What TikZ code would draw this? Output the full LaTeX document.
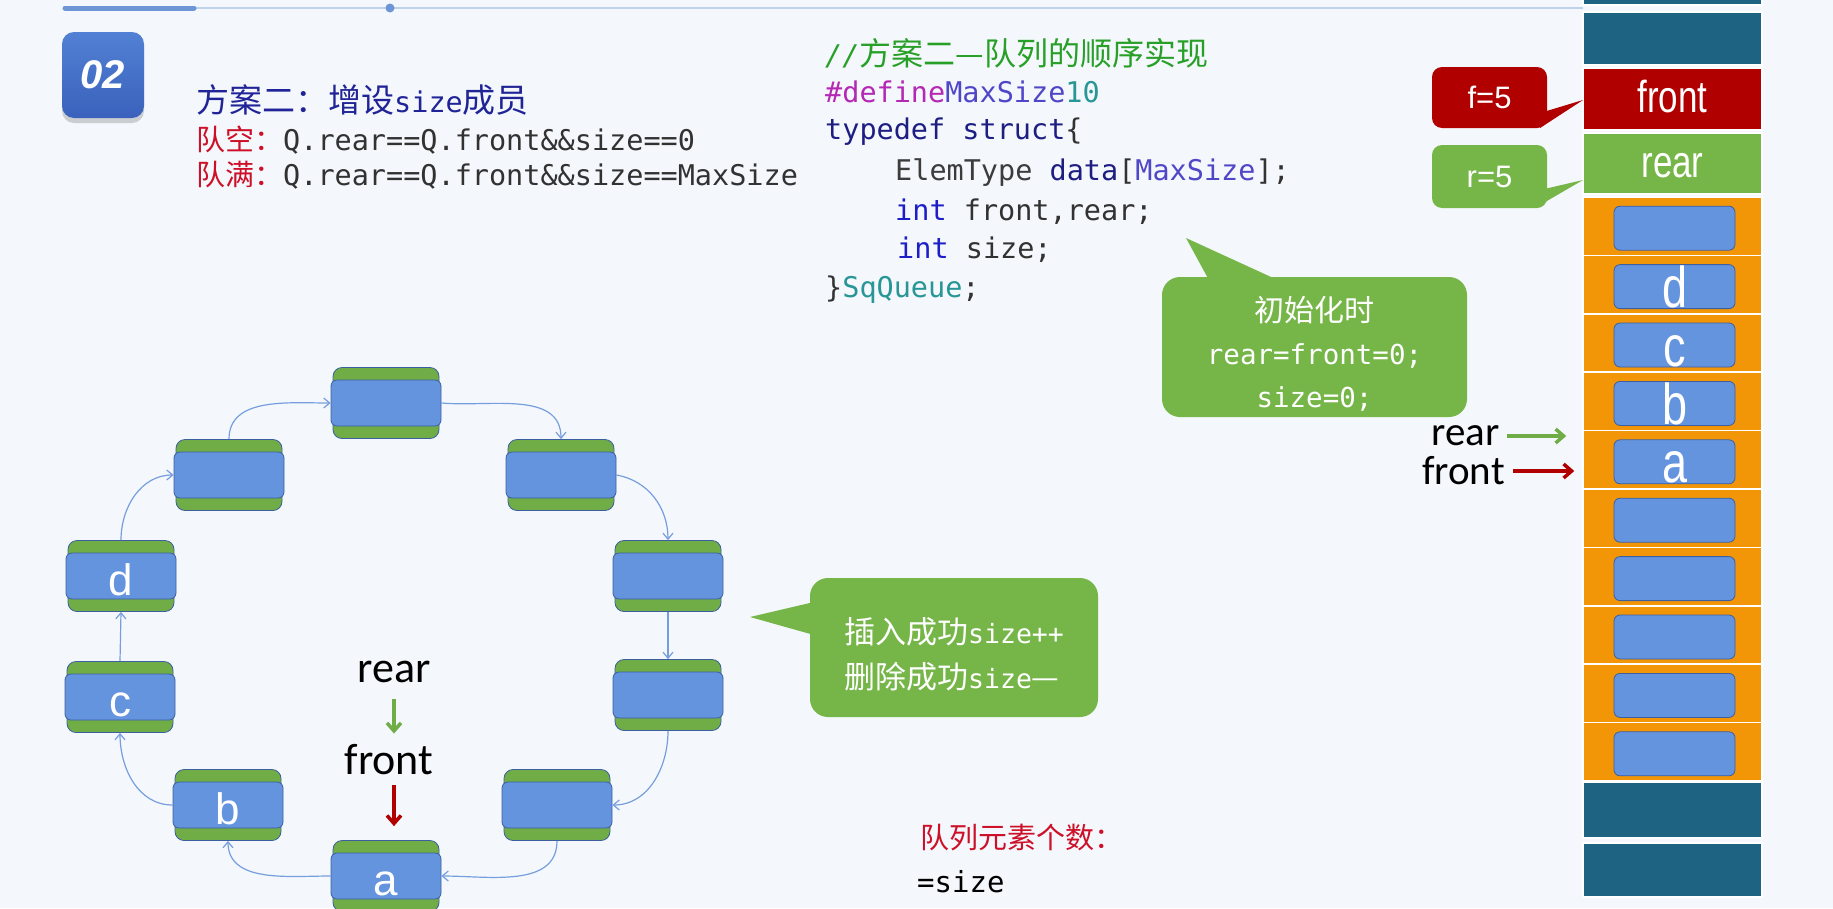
\documentclass[tikz,border=0pt]{standalone}
\usepackage{fontspec}
\setmonofont{DejaVu Sans Mono}
\newfontfamily\cjk{Noto Sans CJK SC}
\newfontfamily\arialfont{Liberation Sans}
\newfontfamily\calibrifont{Carlito}
\usetikzlibrary{arrows.meta,shadows}

\definecolor{pagebg}{RGB}{244,248,252}
\definecolor{barblue}{RGB}{110,150,215}
\definecolor{barthin}{RGB}{190,210,235}
\definecolor{badgetop}{RGB}{82,128,212}
\definecolor{badgelow}{RGB}{58,98,188}
\definecolor{slotgreen}{RGB}{112,173,71}
\definecolor{slotblue}{RGB}{101,148,222}
\definecolor{slotedge}{RGB}{60,95,160}
\definecolor{cellorange}{RGB}{242,150,8}
\definecolor{cellteal}{RGB}{30,100,130}
\definecolor{cellred}{RGB}{176,0,0}
\definecolor{tipgreen}{RGB}{118,182,72}
\definecolor{linkblue}{RGB}{118,158,222}
\definecolor{titleblue}{RGB}{32,36,150}
\definecolor{labelred}{RGB}{205,16,40}
\definecolor{codedark}{RGB}{50,50,50}
\definecolor{codegreen}{RGB}{40,160,40}
\definecolor{codemag}{RGB}{180,40,180}
\definecolor{codeviolet}{RGB}{80,70,200}
\definecolor{codeteal}{RGB}{40,150,150}
\definecolor{codenavy}{RGB}{30,30,130}
\definecolor{codeblue}{RGB}{30,30,200}
\definecolor{codegray}{RGB}{60,60,60}

\newcommand{\fsz}[1]{\fontsize{#1}{#1}\selectfont}
\newcommand{\tall}[1]{\scalebox{1}[1.28]{#1}}

\tikzset{
  txt/.style={inner sep=0pt, anchor=west},
  badge/.style={rounded corners=12pt, minimum width=82pt, minimum height=86pt,
    top color=badgetop, bottom color=badgelow, drop shadow={opacity=0.35, shadow xshift=0pt, shadow yshift=-5pt},
    text=white, font=\arialfont\bfseries\itshape\fsz{40}},
  slotcap/.style={fill=slotgreen, draw=slotedge, line width=0.8pt, rounded corners=9pt,
    minimum width=106pt, minimum height=71pt, inner sep=0pt},
  slotcore/.style={fill=slotblue, draw=slotedge, line width=0.8pt, rounded corners=6pt,
    minimum width=110pt, minimum height=46pt, inner sep=0pt, text=white,
    text height=38pt, text depth=0pt, font=\arialfont\fsz{44}},
  link/.style={draw=linkblue, line width=1.2pt, -{Straight Barb[length=6pt,width=10pt]}},
  cell/.style={minimum width=179pt, inner sep=0pt, draw=white, line width=1.5pt, text=white,
    text height=27pt, text depth=0pt, font=\arialfont\fsz{35}},
  cellbox/.style={fill=slotblue, draw=slotedge, line width=0.8pt, rounded corners=6pt,
    minimum width=121pt, minimum height=44pt, inner sep=0pt, text=white,
    text height=42pt, text depth=0pt, font=\arialfont\fsz{45}},
  note/.style={rounded corners=18pt, inner sep=0pt, text=white, align=center},
  tag/.style={rounded corners=10pt, minimum width=115pt, inner sep=0pt, text=white, font=\arialfont\fsz{31}},
  lbl/.style={inner sep=0pt, font=\calibrifont\fsz{44}},
  ptr/.style={line width=3.5pt, -{Straight Barb[length=8pt,width=14pt]}},
}

\begin{document}
\begin{tikzpicture}[x=1pt,y=1pt]
\useasboundingbox (0,0) rectangle (1833,-908);
\clip (0,0) rectangle (1833,-908);
\fill[pagebg] (0,0) rectangle (1833,-908);

% top bar
\draw[line width=1.5pt, barthin] (194,-8) -- (1583,-8);
\draw[line width=5pt, barblue, line cap=round] (65,-8) -- (194,-8);
\fill[barblue] (390,-8) circle (4.5);

\node[badge] (badge) at (103,-75) {02};

% plan text
\node[txt, text=titleblue] (plan) at (196,-100) {\cjk\fsz{33}方案二：增设{\ttfamily\fsz{28.5}size}成员};
\node[txt, text=codedark] (isempty) at (196,-140) {\textcolor{labelred}{\cjk\fsz{29}队空：}\ttfamily\fsz{28.5}Q.rear==Q.front\&\&size==0};
\node[txt, text=codedark] (isfull) at (196,-175) {\textcolor{labelred}{\cjk\fsz{29}队满：}\ttfamily\fsz{28.5}Q.rear==Q.front\&\&size==MaxSize};

% code
\node[txt, text=codegreen] (code1) at (825,-53) {\ttfamily\fsz{28.5}\itshape //\upshape\cjk\fsz{32}方案二—队列的顺序实现};
\node[txt, text=codedark, font=\ttfamily\fsz{28.5}] (code2) at (825,-92) {\textcolor{codemag}{\#define}\textcolor{codeviolet}{MaxSize}\textcolor{codeteal}{10}};
\node[txt, text=codedark, font=\ttfamily\fsz{28.5}] (code3) at (825,-132) {\textcolor{codenavy}{typedef struct}\{};
\node[txt, text=codedark, font=\ttfamily\fsz{28.5}] (code4) at (895,-173) {\textcolor{codegray}{ElemType} \textcolor{codenavy}{data}[\textcolor{codeviolet}{MaxSize}];};
\node[txt, text=codedark, font=\ttfamily\fsz{28.5}] (code5) at (895,-212) {\textcolor{codeblue}{int} front,rear;};
\node[txt, text=codedark, font=\ttfamily\fsz{28.5}] (code6) at (897,-250) {\textcolor{codeblue}{int} size;};
\node[txt, text=codedark, font=\ttfamily\fsz{28.5}] (code7) at (825,-290) {\}\textcolor{codeteal}{SqQueue};};

% callouts
\fill[tipgreen] (1210,-282) -- (1186,-238) -- (1282,-282) -- cycle;
\node[note, fill=tipgreen, minimum width=305pt, minimum height=140pt, font=\ttfamily\fontsize{27.5}{43}\selectfont] (init) at (1314.5,-347)
  {{\cjk\fsz{30}\rule{0pt}{38pt}初始化时}\\rear=front=0;\\size=0;};

\fill[tipgreen] (814,-602) -- (750,-617) -- (814,-635) -- cycle;
\node[note, fill=tipgreen, minimum width=288pt, minimum height=139pt, align=left, font=\ttfamily\fontsize{26.5}{45}\selectfont] (ops) at (954,-647.5)
  {{\cjk\fsz{31}\rule{0pt}{39pt}插入成功}size++\\{\cjk\fsz{31}删除成功}size{\cjk\fsz{31}—}};

\node[txt, text=labelred, font=\cjk\fsz{29}] (count) at (920,-838) {队列元素个数：};
\node[txt, font=\ttfamily\fsz{29}] (countval) at (917,-882) {=size};

% ring of slots
\foreach \i/\x/\y/\t in {0/386/403/{},1/561/475/{},2/668/576/{},3/668/695/{},4/557/805/{},5/386/876/a,6/228/805/b,7/120/697/c,8/121/576/d,9/229/475/{}} {
  \node[slotcap] (slot\i) at (\x,-\y) {};
  \node[slotcore] (core\i) at (\x,-\y) {\t};
}
\draw[link] (core0.east) to[out=-5,in=90] (slot1.north);
\draw[link] (core1.east) to[out=-10,in=90] (slot2.north);
\draw[link] (slot2.south) -- (slot3.north);
\draw[link] (slot3.south) to[out=-90,in=0] (core4.east);
\draw[link] (slot4.south) to[out=-90,in=0] (core5.east);
\draw[link] (core5.west) to[out=180,in=-90] (slot6.south);
\draw[link] (core6.west) to[out=180,in=-90] (slot7.south);
\draw[link] (slot7.north) -- (slot8.south);
\draw[link] (slot8.north) to[out=90,in=180] (core9.west);
\draw[link] (slot9.north) to[out=90,in=180] (core0.west);

\node[lbl] (rrear) at (394,-672) {rear};
\node[lbl] (rfront) at (389,-760) {front};
\draw[ptr, slotgreen, shorten <=16pt, shorten >=11pt] (rrear.south) -- (rrear.south |- rfront.north);
\draw[ptr, cellred, shorten <=10pt, shorten >=14pt] (rrear.south |- rfront.south) -- (rrear.south |- slot5.north);

% array column
\node[cell, fill=cellteal, minimum height=45pt] (celltop) at (1672.5,17.5) {};
\node[cell, fill=cellteal, minimum height=53pt] (cellspare) at (1672.5,-38.5) {};
\node[cell, fill=cellred, minimum height=62pt] (cellfront) at (1672.5,-99) {\tall{front}};
\node[cell, fill=tipgreen, minimum height=61pt] (cellrear) at (1672.5,-163.5) {\tall{rear}};
\foreach \i/\t in {0/{},1/d,2/c,3/b,4/a,5/{},6/{},7/{},8/{},9/{}} {
  \node[cell, fill=cellorange, minimum height=58.4pt] (cell\i) at (1672.5,{-226.2-58.4*\i}) {};
  \node[cellbox] (item\i) at (1674.5,{-228.2-58.4*\i}) {\tall{\t}};
}
\node[cell, fill=cellteal, minimum height=56pt] (celllow) at (1672.5,-810) {};
\node[cell, fill=cellteal, minimum height=54pt] (cellend) at (1672.5,-870) {};

\fill[cellred] (1540,-113) -- (1583,-100) -- (1540,-128) -- cycle;
\node[tag, fill=cellred, minimum height=61pt] (ftag) at (1489.5,-97.5) {f=5};
\fill[tipgreen] (1540,-190) -- (1583,-180) -- (1540,-205) -- cycle;
\node[tag, fill=tipgreen, minimum height=63pt] (rtag) at (1489.5,-176.5) {r=5};

\node[lbl, anchor=east, font=\calibrifont\fsz{41}] (qrear) at (1500,-436) {rear};
\node[lbl, anchor=east, font=\calibrifont\fsz{41}] (qfront) at (1505,-471) {front};
\draw[ptr, slotgreen, shorten <=7pt, shorten >=16pt] (qrear.east) -- (qrear -| cell4.west);
\draw[ptr, cellred, shorten <=8pt, shorten >=8pt] (qfront.east) -- (qfront -| cell4.west);

\end{tikzpicture}
\end{document}
